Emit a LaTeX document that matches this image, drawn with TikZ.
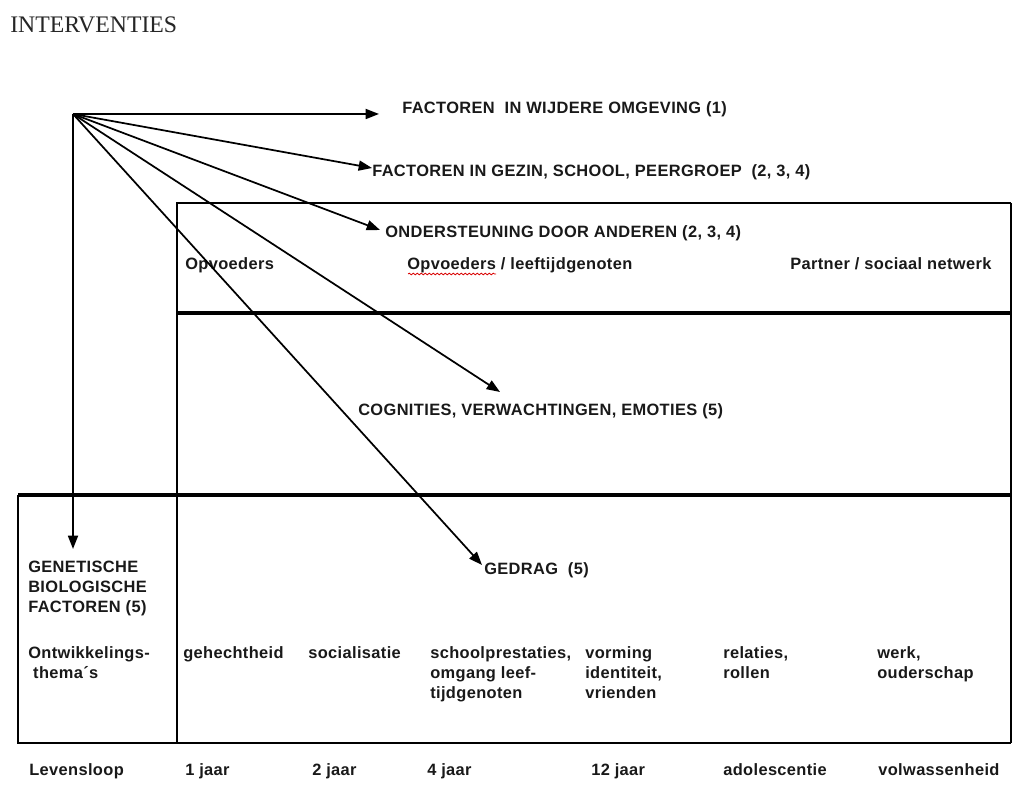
\documentclass[tikz,border=0pt]{standalone}
\usepackage{fontspec}
\setmainfont{Liberation Sans}
\newfontfamily\lblfont[LetterSpace=2.3]{Liberation Sans}
\newfontfamily\titlefont{Liberation Serif}
\usetikzlibrary{arrows.meta,decorations.pathmorphing}
\begin{document}
\begin{tikzpicture}[x=0.75pt,y=-0.75pt,
  lbl/.style={font=\lblfont\fontsize{12.3}{15}\selectfont\bfseries, text=black!90, inner sep=0pt, anchor=base west},
  mlbl/.style={lbl, anchor=north west, align=left},
  arr/.style={line width=1.3pt, -{Triangle[length=10pt,width=7.5pt]}},
  boxline/.style={line width=1.3pt},
  heavy/.style={line width=3.6pt}]
\useasboundingbox[fill=white] (0,0) rectangle (1012,787);

% title
\node[font=\titlefont\fontsize{17.8}{20}\selectfont, text=black!85, anchor=base west, inner sep=0pt] (title) at (10,33) {INTERVENTIES};

% table lines
\draw[boxline] (177,743) -- (177,203) -- (1011,203);
\draw[line width=0.9pt] (1011,203) -- (1011,743);
\draw[heavy] (177,313) -- (1012,313);
\draw[heavy] (18,495) -- (1012,495);
\draw[boxline] (18,495) -- (18,743) -- (1011,743);

% texts
\node[lbl] (wijd) at (402,114) {FACTOREN\ \ IN WIJDERE OMGEVING (1)};
\node[lbl] (gezin) at (372,177) {FACTOREN IN GEZIN, SCHOOL, PEERGROEP\ \ (2, 3, 4)};
\node[lbl] (onder) at (385,238) {ONDERSTEUNING DOOR ANDEREN (2, 3, 4)};
\node[lbl] (opv1) at (185,270) {Opvoeders};
\node[lbl] (opv2) at (407,270) {Opvoeders / leeftijdgenoten};
\node[lbl] (partner) at (790,270) {Partner / sociaal netwerk};
\node[lbl] (cogn) at (358,415) {COGNITIES, VERWACHTINGEN, EMOTIES (5)};
\node[lbl] (gedrag) at (484,574) {GEDRAG\ \ (5)};
\node[mlbl] (gen) at (28,561) {GENETISCHE\\BIOLOGISCHE\\FACTOREN (5)};
\node[mlbl] (ontw) at (28,646.5) {Ontwikkelings-\\\ thema\char"00B4 s};
\node[mlbl] (geh) at (183,646.5) {gehechtheid};
\node[mlbl] (soc) at (308,646.5) {socialisatie};
\node[mlbl] (school) at (430,646.5) {schoolprestaties,\\omgang leef-\\tijdgenoten};
\node[mlbl] (vorm) at (585,646.5) {vorming\\identiteit,\\vrienden};
\node[mlbl] (rel) at (723,646.5) {relaties,\\rollen};
\node[mlbl] (werk) at (877,646.5) {werk,\\ouderschap};

\node[lbl] (lev) at (29,775) {Levensloop};
\node[lbl] (j1) at (185,775) {1 jaar};
\node[lbl] (j2) at (312,775) {2 jaar};
\node[lbl] (j4) at (427,775) {4 jaar};
\node[lbl] (j12) at (591,775) {12 jaar};
\node[lbl] (adol) at (723,775) {adolescentie};
\node[lbl] (volw) at (878,775) {volwassenheid};

% spelling underline
\draw[red!85!black, line width=0.6pt, decorate, decoration={snake, amplitude=0.6pt, segment length=3pt}] (408,274) -- (496,274);

% arrows
\coordinate (o) at (73,114);
\coordinate (t1) at (379,114);
\coordinate (t2) at (372,168);
\coordinate (t3) at (380,230);
\coordinate (t4) at (500,392);
\coordinate (t5) at (482,565);
\coordinate (t6) at (73,549);
\foreach \t in {t1,t2,t3,t4,t5,t6} \draw[arr] (o) -- (\t);
\end{tikzpicture}
\end{document}
